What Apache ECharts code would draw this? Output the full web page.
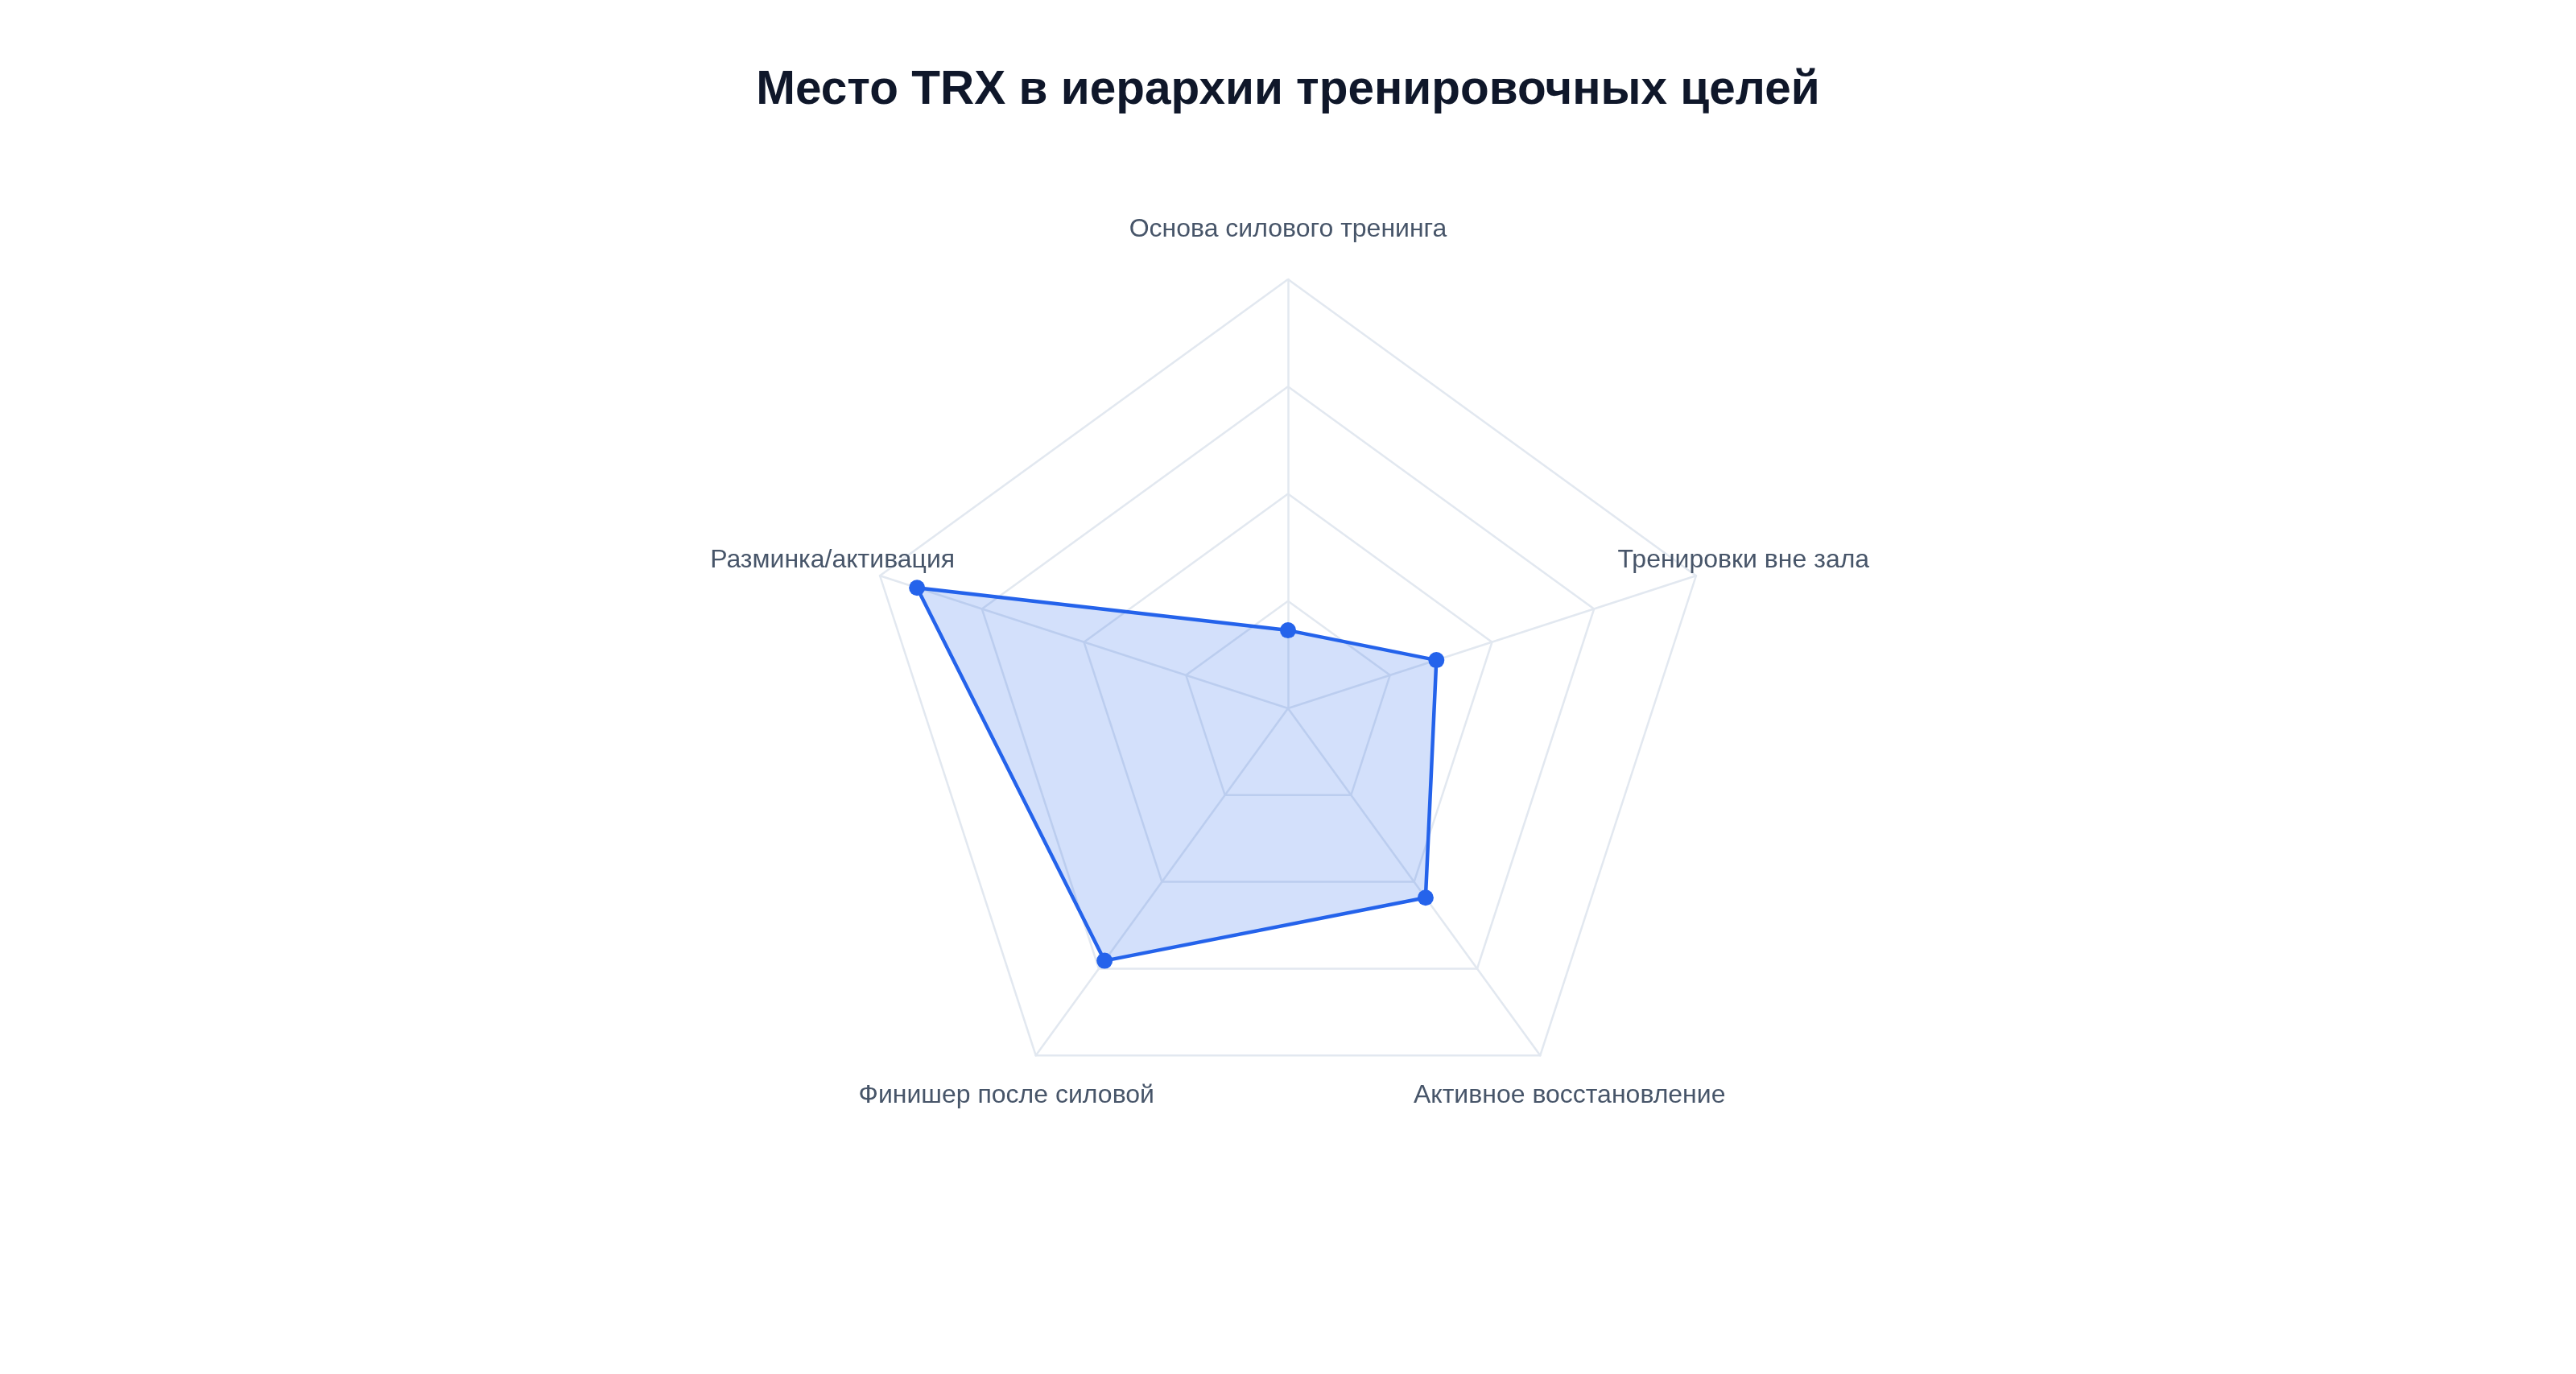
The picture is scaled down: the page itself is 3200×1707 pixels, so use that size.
<!DOCTYPE html>
<html>
<head>
<meta charset="utf-8">
<script src="https://cdn.jsdelivr.net/npm/echarts@6/dist/echarts.min.js"></script>
<style>
html,body{margin:0;padding:0;background:#fff;}
#chart{width:3200px;height:1707px;}
</style>
</head>
<body>
<div id="chart"></div>
<script>
const titleText = 'Место TRX в иерархии тренировочных целей';
const indicatorNames = ['Основа силового тренинга', 'Разминка/активация', 'Финишер после силовой', 'Активное восстановление', 'Тренировки вне зала'];
const indicatorMax = 5.5;
const seriesValues = [1, 5, 4, 3, 2];

const chart = echarts.init(document.getElementById('chart'));
chart.setOption({
  backgroundColor: '#ffffff',
  animation: false,
  title: {
    text: titleText,
    left: 'center',
    top: 78,
    textStyle: { fontFamily: 'Liberation Sans, Arial, sans-serif', fontSize: 58.5, fontWeight: 'bold', color: '#0f172a' }
  },
  radar: {
    center: ['50%', 880],
    radius: 533,
    startAngle: 90,
    splitNumber: 4,
    shape: 'polygon',
    indicator: indicatorNames.map(n => ({ name: n, max: indicatorMax, min: 0 })),
    axisName: { color: '#475569', fontSize: 32, fontFamily: 'Liberation Sans, Arial, sans-serif', align: 'center', verticalAlign: 'middle', padding: [8, 0, 0, 0] },
    nameGap: 62,
    splitLine: { lineStyle: { color: '#e2e8f0', width: 2.5 } },
    axisLine: { lineStyle: { color: '#e2e8f0', width: 2.5 } },
    splitArea: { show: false }
  },
  series: [{
    type: 'radar',
    symbol: 'circle',
    symbolSize: 20,
    lineStyle: { color: '#2563eb', width: 4.5 },
    itemStyle: { color: '#2563eb' },
    areaStyle: { color: '#2563eb', opacity: 0.2 },
    data: [{ value: seriesValues, name: 'TRX' }]
  }]
});
</script>
</body>
</html>
